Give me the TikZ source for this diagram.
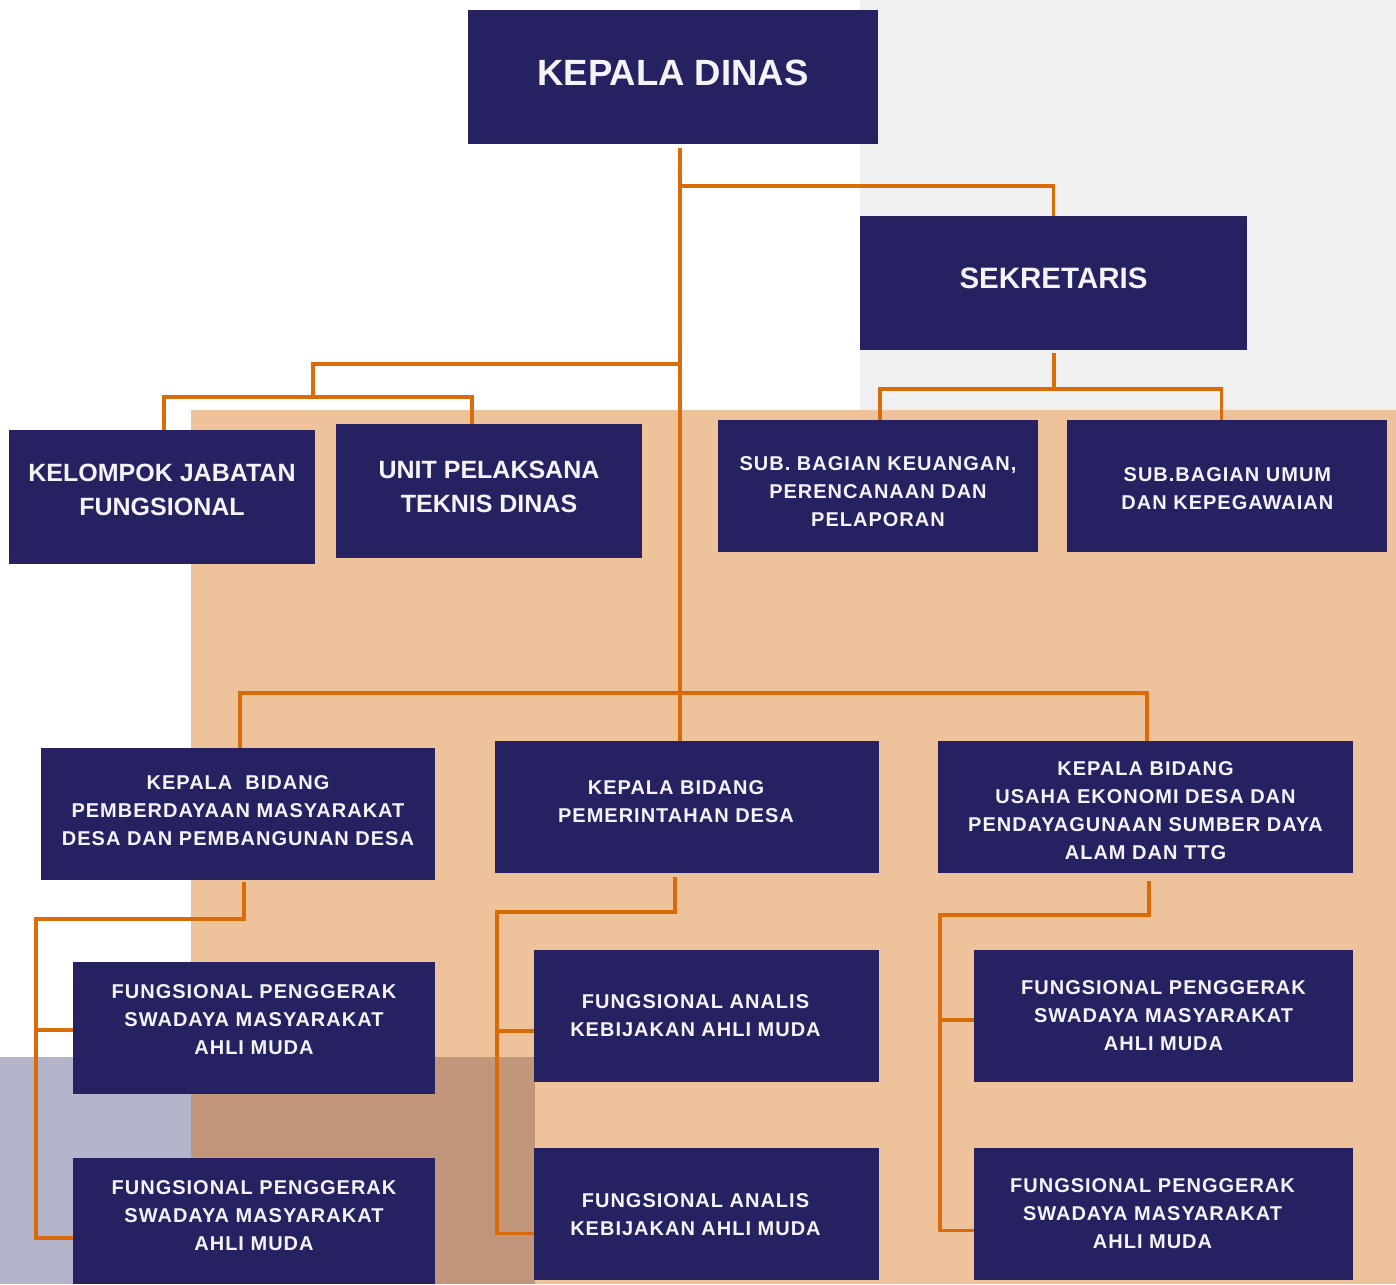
\documentclass[tikz,border=0pt]{standalone}
\usepackage{fontspec}
\setmainfont{Liberation Sans}
\newfontfamily\trackedfont{Liberation Sans}[LetterSpace=5]
\usetikzlibrary{positioning}

\definecolor{navy}{HTML}{262262}
\definecolor{linkorange}{HTML}{D96B08}
\definecolor{peach}{HTML}{EEC29A}
\definecolor{paper}{HTML}{F0F0F0}
\definecolor{lavender}{HTML}{B4B4CA}
\definecolor{clay}{HTML}{C2967A}
\definecolor{boxtext}{HTML}{F4F4F8}

% invisible struts to move a box text up or down
\newcommand{\pushup}[1]{\rule[-#1]{0pt}{#1}}
\newcommand{\pushdown}[1]{\rule{0pt}{#1}}
\newcommand{\nudge}{\hspace*{22pt}}
% whole block moved left
\newcommand{\leftblock}[1]{\begin{tabular}{@{}c@{}}#1\end{tabular}\nudge}

\begin{document}
\begin{tikzpicture}[x=1pt,y=-1pt,
				unit/.style={fill=navy, text=boxtext, align=center, inner sep=0pt, minimum height=132pt},
				toplevel/.style={unit, font=\bfseries\fontsize{36.5}{40}\selectfont, minimum height=134pt},
				midlevel/.style={unit, font=\bfseries\fontsize{25}{34}\selectfont, minimum width=306pt, minimum height=134pt},
				sublevel/.style={unit, font=\trackedfont\bfseries\fontsize{20}{28}\selectfont},
				link/.style={draw=linkorange, line width=3.5pt}
				]
				% background panels
				\fill[white] (0,0) rectangle (1396,1284);
				\fill[paper] (860,0) rectangle (1396,410);
				\fill[peach] (191,410) rectangle (1396,1284);
				\fill[lavender] (0,1057) rectangle (191,1284);
				\fill[clay] (191,1057) rectangle (535,1284);
				\useasboundingbox (0,0) rectangle (1396,1284);
				
				\node[toplevel, minimum width=410pt] (dinas) at (673,77) {KEPALA DINAS\pushup{8pt}};
				\node[toplevel, minimum width=387pt, font=\bfseries\fontsize{29.5}{34}\selectfont] (sekretaris) at (1053.5,283) {SEKRETARIS\pushup{10pt}};
				\node[midlevel] (kjf) at (162,497) {KELOMPOK JABATAN\\FUNGSIONAL\pushup{14pt}};
				\node[midlevel] (upt) at (489,491) {UNIT PELAKSANA\\TEKNIS DINAS\pushup{9pt}};
				\node[sublevel, minimum width=320pt] (keu) at (878,486) {\pushdown{26pt}SUB. BAGIAN KEUANGAN,\\PERENCANAAN DAN\\PELAPORAN};
				\node[sublevel, minimum width=320pt, right=29pt of keu] (umum) {\pushdown{19pt}SUB.BAGIAN UMUM\\DAN KEPEGAWAIAN};
				
				\node[sublevel, minimum width=394pt] (kbpm) at (238,814) {KEPALA~~BIDANG\\PEMBERDAYAAN MASYARAKAT\\DESA DAN PEMBANGUNAN DESA\pushup{7pt}};
				\node[sublevel, minimum width=384pt] (kbpd) at (687,807) {KEPALA BIDANG\nudge\\PEMERINTAHAN DESA\nudge\pushup{10pt}};
				\node[sublevel, minimum width=415pt] (kbue) at (1145.5,807) {\pushdown{21pt}KEPALA BIDANG\\USAHA EKONOMI DESA DAN\\PENDAYAGUNAAN SUMBER DAYA\\ALAM DAN TTG};
				
				\node[sublevel, minimum width=362pt] (fpsl1) at (254,1028) {FUNGSIONAL PENGGERAK\\SWADAYA MASYARAKAT\\AHLI MUDA\pushup{16pt}};
				\node[sublevel, minimum width=362pt, minimum height=126pt] (fpsl2) at (254,1221) {FUNGSIONAL PENGGERAK\\SWADAYA MASYARAKAT\\AHLI MUDA\pushup{11pt}};
				\node[sublevel, minimum width=345pt] (ana1) at (706.5,1016) {FUNGSIONAL ANALIS\nudge\\KEBIJAKAN AHLI MUDA\nudge};
				\node[sublevel, minimum width=345pt, below=66pt of ana1] (ana2) {FUNGSIONAL ANALIS\nudge\\KEBIJAKAN AHLI MUDA\nudge};
				\node[sublevel, minimum width=379pt] (fpsr1) at (1163.5,1016) {FUNGSIONAL PENGGERAK\\SWADAYA MASYARAKAT\\AHLI MUDA};
				\node[sublevel, minimum width=379pt, below=66pt of fpsr1] (fpsr2) {\leftblock{FUNGSIONAL PENGGERAK\\SWADAYA MASYARAKAT\\AHLI MUDA}};
				
				% junctions
				\coordinate (hubS) at (680,186);
				\coordinate (hubU) at (680,364);
				\coordinate (hubB) at (680,693);
				\coordinate (forkU) at (313,397);
				\coordinate (forkS) at (1054,389);
				\coordinate (railL) at (36,919);
				\coordinate (railM) at (497,912);
				\coordinate (railR) at (940,915);
				
				\draw[link] ([yshift=-4pt]dinas.south -| hubB) -- (hubB);
				\draw[link] (hubS) -| (sekretaris.north);
				\draw[link] (hubU) -| (forkU);
				\draw[link] ([xshift=2pt]kjf.north) |- (forkU) -| ([xshift=-17pt]upt.north);
				\draw[link] ([yshift=-3pt]sekretaris.south -| forkS) -- (forkS);
				\draw[link] ([xshift=2pt]keu.north) |- (forkS) -| ([xshift=-6pt]umum.north);
				\draw[link] ([xshift=2pt]kbpm.north) |- (hubB) -| ([xshift=1.5pt]kbue.north);
				\draw[link] (hubB) -- (hubB |- kbpd.north);
				
				\draw[link] ([xshift=6pt,yshift=-2pt]kbpm.south) |- (railL) |- ([yshift=-17pt]fpsl2.west);
				\draw[link] (railL) |- ([yshift=-2pt]fpsl1.west);
				\draw[link] ([xshift=-12pt,yshift=-4pt]kbpd.south) |- (railM) |- ([yshift=-19pt]ana2.west);
				\draw[link] (railM) |- ([yshift=-15pt]ana1.west);
				\draw[link] ([xshift=3.5pt,yshift=-8pt]kbue.south) |- (railR) |- ([yshift=-16pt]fpsr2.west);
				\draw[link] (railR) |- ([yshift=-4pt]fpsr1.west);
			\end{tikzpicture}
\end{document}
